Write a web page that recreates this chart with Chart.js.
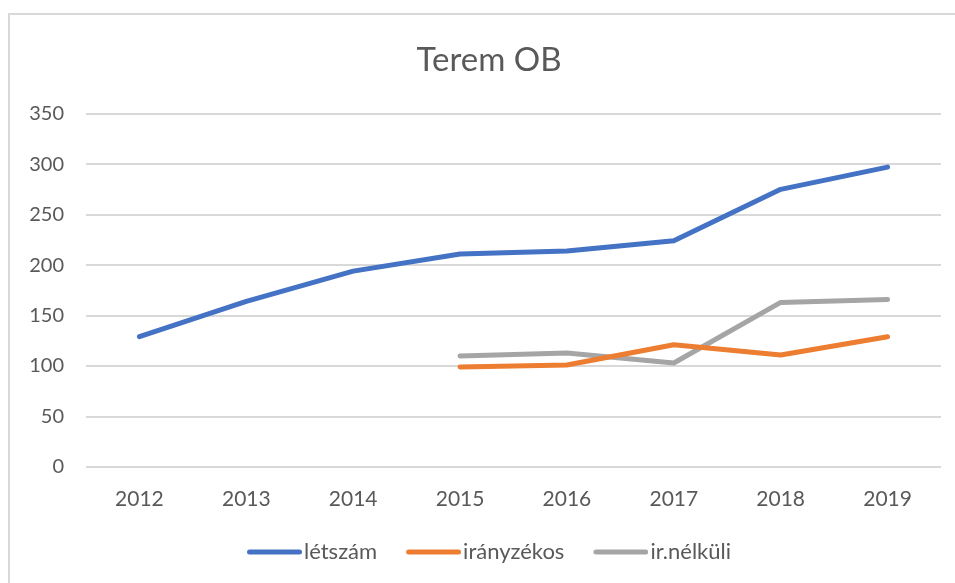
<!DOCTYPE html>
<html>
<head>
<meta charset="utf-8">
<script src="https://cdn.jsdelivr.net/npm/chart.js@4.4.1/dist/chart.umd.min.js"></script>
<style>
  html, body { margin: 0; padding: 0; background: #fff; overflow: hidden; }
  #wrap { position: relative; width: 955px; height: 583px; }
  #frame { position: absolute; left: 8px; top: 13px; right: -10px; bottom: -10px;
           border-left: 2px solid #d9d9d9; border-top: 2px solid #d9d9d9; pointer-events: none; }
</style>
</head>
<body>
<div id="wrap">
  <canvas id="c" width="955" height="583"></canvas>
  <div id="frame"></div>
</div>
<script>
const titleText = 'Terem OB';
const categories = ['2012', '2013', '2014', '2015', '2016', '2017', '2018', '2019'];
const seriesNames = ['létszám', 'irányzékos', 'ir.nélküli'];
const letszam   = [129, 164, 194, 211, 214, 224, 275, 297];
const iranyzekos = [null, null, null, 99, 101, 121, 111, 129];
const irNelkuli  = [null, null, null, 110, 113, 103, 163, 166];
const yTicks = [0, 50, 100, 150, 200, 250, 300, 350];

const colors = ['#4472C4', '#ED7D31', '#A5A5A5'];
const FONT = 'Lato, "Open Sans", sans-serif';

// legend swatch: 55px round-capped line ending 2px before the label text
function legendSwatch(color) {
  const cv = document.createElement('canvas');
  cv.width = 64; cv.height = 8;
  const g = cv.getContext('2d');
  g.strokeStyle = color; g.lineWidth = 5; g.lineCap = 'round';
  g.beginPath(); g.moveTo(11.5, 4); g.lineTo(61.5, 4); g.stroke();
  return cv;
}

const seriesData = [letszam, iranyzekos, irNelkuli];
const datasets = seriesNames.map((name, i) => ({
  label: name,
  data: seriesData[i],
  borderColor: colors[i],
  backgroundColor: colors[i],
  borderWidth: 5,
  borderCapStyle: 'round',
  borderJoinStyle: 'round',
  pointRadius: 0,
  pointHoverRadius: 0,
  pointStyle: legendSwatch(colors[i]),
  tension: 0,
  spanGaps: false,
  yAxisID: 'y'
}));

new Chart(document.getElementById('c'), {
  type: 'line',
  data: { labels: categories, datasets },
  options: {
    responsive: false,
    animation: false,
    layout: { padding: { left: 0, right: -23, top: 0, bottom: 10 } },
    plugins: {
      title: {
        display: true, text: titleText, color: '#595959',
        font: { family: FONT, size: 33, weight: 'normal' },
        padding: { top: 41, bottom: 33 }
      },
      legend: {
        position: 'bottom',
        labels: {
          usePointStyle: true, pointStyleWidth: 46,
          color: '#595959', padding: 29,
          font: { family: FONT, size: 22 }
        }
      },
      tooltip: { enabled: false }
    },
    scales: {
      x: {
        offset: true,
        grid: { display: false, drawTicks: false },
        border: { display: false },
        ticks: { color: '#595959', padding: 20, font: { family: FONT, size: 21 } },
        afterFit: (s) => { s.height = 45; }
      },
      y: {
        min: 0, max: 350,
        afterBuildTicks: (s) => { s.ticks = yTicks.map(v => ({ value: v })); },
        afterFit: (s) => { s.width = 86; },
        grid: { color: '#d9d9d9', lineWidth: 2, drawTicks: false },
        border: { display: false },
        ticks: { color: '#595959', padding: 22, font: { family: FONT, size: 20 } }
      },
      yRight: {
        position: 'right',
        display: true,
        min: 0, max: 350,
        grid: { display: false, drawTicks: false },
        border: { display: false },
        ticks: { display: false },
        afterFit: (s) => { s.width = 37; }
      }
    }
  }
});
</script>
</body>
</html>
